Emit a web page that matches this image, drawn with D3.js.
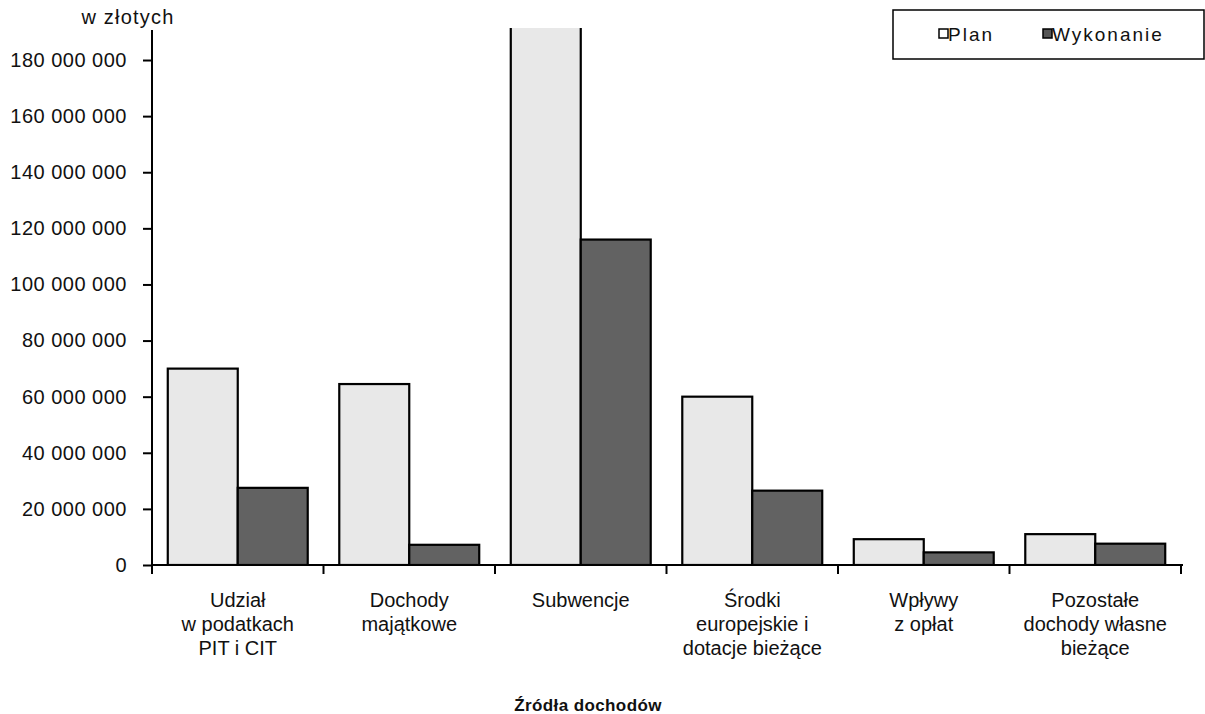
<!DOCTYPE html>
<html><head><meta charset="utf-8">
<script src="https://cdn.jsdelivr.net/npm/d3@7"></script>
<style>
body{margin:0;background:#fff;}
svg text{font-family:"Liberation Sans",Arial,sans-serif;fill:#111;}
</style></head>
<body><svg id="c" width="1205" height="714"></svg>
<script>
const categories = [
  ["Udział","w podatkach","PIT i CIT"],
  ["Dochody","majątkowe"],
  ["Subwencje"],
  ["Środki","europejskie i","dotacje bieżące"],
  ["Wpływy","z opłat"],
  ["Pozostałe","dochody własne","bieżące"]
];
const planValues = [70000000, 64500000, 200000000, 60000000, 9200000, 11000000];
const wykonanieValues = [27500000, 7200000, 116000000, 26500000, 4500000, 7600000];
const seriesNames = ["Plan", "Wykonanie"];
const yTicks = [0,20000000,40000000,60000000,80000000,100000000,120000000,140000000,160000000,180000000];

const svg = d3.select("#c");
const x0 = 152, x1 = 1181, yBase = 565, yTop = 30;
const x = d3.scaleBand().domain(d3.range(categories.length)).range([x0, x1]).paddingInner(0.184).paddingOuter(0.092);
const xs = d3.scaleBand().domain(seriesNames).range([0, x.bandwidth()]);
const y = d3.scaleLinear().domain([0, 190700000]).range([yBase, yTop]);
const fills = {"Plan":"#e8e8e8","Wykonanie":"#626262"};

svg.append("clipPath").attr("id","plot").append("rect")
  .attr("x", x0).attr("y", yTop-2).attr("width", x1-x0+10).attr("height", yBase-yTop+2);

const data = categories.map((c,i)=>({i, vals:[{s:"Plan",v:planValues[i]},{s:"Wykonanie",v:wykonanieValues[i]}]}));
const g = svg.append("g").attr("clip-path","url(#plot)");
g.selectAll("g.cat").data(data).join("g").attr("transform", d=>`translate(${x(d.i)},0)`)
  .selectAll("rect").data(d=>d.vals).join("rect")
  .attr("x", d=>xs(d.s)).attr("width", xs.bandwidth())
  .attr("y", d=>y(d.v)).attr("height", d=>yBase - y(d.v))
  .attr("fill", d=>fills[d.s]).attr("stroke","#000").attr("stroke-width",2.2);

// y axis
const fmt = v => d3.format(",")(v).replace(/,/g," ");
const ya = svg.append("g").attr("transform",`translate(${x0},0)`)
  .call(d3.axisLeft(y).tickValues(yTicks).tickFormat(fmt).tickSize(9).tickPadding(16));
ya.select(".domain").attr("d", `M0,${yTop}V${yBase}`).attr("stroke","#000").attr("stroke-width",2);
ya.selectAll(".tick line").attr("stroke","#000").attr("stroke-width",2);
ya.selectAll(".tick text").style("font-size","20px").style("letter-spacing","0.5px").attr("fill","#111");

// x axis
const xa = svg.append("g").attr("transform",`translate(0,${yBase})`);
xa.append("line").attr("x1",x0).attr("x2",x1+2).attr("y1",0).attr("y2",0).attr("stroke","#000").attr("stroke-width",2);
const bounds = d3.range(categories.length+1).map(i => x0 + i*x.step());
xa.selectAll("line.tk").data(bounds).join("line").attr("class","tk")
  .attr("x1",d=>d).attr("x2",d=>d).attr("y1",0).attr("y2",9).attr("stroke","#000").attr("stroke-width",2);

// category labels
svg.selectAll("text.cat").data(categories).join("text").attr("class","cat")
  .attr("text-anchor","middle").style("font-size","20px")
  .attr("transform",(d,i)=>`translate(${x(i)+x.bandwidth()/2},607)`)
  .selectAll("tspan").data(d=>d).join("tspan")
  .attr("x",0).attr("dy",(d,j)=>j===0?0:24).text(d=>d);

svg.append("text").attr("x",588).attr("y",711).attr("text-anchor","middle")
  .style("font-size","17px").style("font-weight","bold").style("letter-spacing","0.4px").text("Źródła dochodów");

svg.append("text").attr("x",128).attr("y",24).attr("text-anchor","middle")
  .style("font-size","20px").style("letter-spacing","1.2px").text("w złotych");

// legend
const lg = svg.append("g");
lg.append("rect").attr("x",893).attr("y",10).attr("width",311).attr("height",49)
  .attr("fill","#fff").attr("stroke","#000").attr("stroke-width",1.5);
const legX = [939, 1043];
const sw = {"Plan":"#ffffff","Wykonanie":"#555555"};
seriesNames.forEach((s,i)=>{
  lg.append("rect").attr("x",legX[i]).attr("y",29).attr("width",9).attr("height",9)
    .attr("fill",sw[s]).attr("stroke","#000").attr("stroke-width",1.5);
  lg.append("text").attr("x",legX[i]+9).attr("y",41).style("font-size","19px").style("letter-spacing","2px").text(s);
});
</script></body></html>
